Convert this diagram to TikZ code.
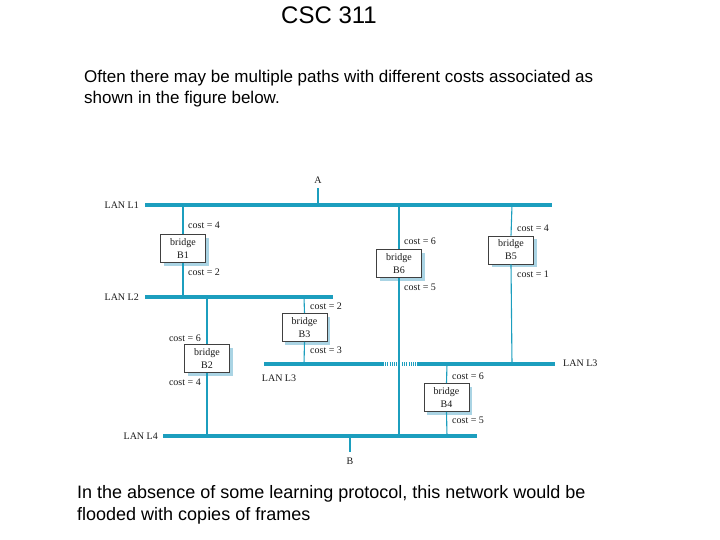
\documentclass[tikz,border=0pt]{standalone}
\usepackage{fontspec}
\setmainfont{Liberation Sans}
\newfontfamily\figfont{Liberation Serif}
\usetikzlibrary{shadows}
\definecolor{lanblue}{RGB}{28,158,190}
\definecolor{shadowblue}{RGB}{170,212,228}
\definecolor{figtext}{RGB}{25,25,25}
\begin{document}
\begin{tikzpicture}[x=1pt,y=-1pt,
  lanbar/.style={draw=lanblue,line width=4.5pt},
  tap/.style={draw=lanblue,line width=1.1pt},
  bridgebox/.style={draw=black!75,fill=white,line width=0.6pt,minimum width=45pt,minimum height=28pt,
    inner sep=1pt,align=center,font=\figfont\fontsize{10}{13}\selectfont,text=figtext,
    drop shadow={shadow xshift=3pt,shadow yshift=-3pt,fill=shadowblue,opacity=1}},
  lbl/.style={font=\figfont\fontsize{10}{11}\selectfont,text=figtext,inner sep=0pt},
  prose/.style={inner sep=0pt,anchor=base west}]
\useasboundingbox (0,0) rectangle (720,540);
% title and text
\node[font=\fontsize{24}{28}\selectfont,inner sep=0pt,anchor=base] (title) at (329,24) {CSC 311};
\node[prose,font=\fontsize{17}{20}\selectfont] (p1) at (84,83) {Often there may be multiple paths with different costs associated as};
\node[prose,font=\fontsize{17}{20}\selectfont] (p2) at (84,104) {shown in the figure below.};
\node[prose,font=\fontsize{18}{21}\selectfont] (p3) at (77,498) {In the absence of some learning protocol, this network would be};
\node[prose,font=\fontsize{18}{21}\selectfont] (p4) at (77,520) {flooded with copies of frames};
% LAN bar ends
\coordinate (L1w) at (145,205); \coordinate (L1e) at (552,205);
\coordinate (L2w) at (145,297); \coordinate (L2e) at (333,297);
\coordinate (L3w) at (264,364); \coordinate (L3e) at (555,364);
\coordinate (L3da) at (383,364); \coordinate (L3db) at (397,364);
\coordinate (L3dc) at (402,364); \coordinate (L3dd) at (418,364);
\coordinate (L4w) at (163,436); \coordinate (L4e) at (477,436);
% taps on bars
\coordinate (a1) at (318,205); \coordinate (atop) at (318,188);
\coordinate (b1t) at (183,205); \coordinate (b1b) at (183,297);
\coordinate (b6t) at (399,205); \coordinate (b6b) at (399,436);
\coordinate (b5t) at (512,205); \coordinate (b5b) at (512,364);
\coordinate (b2t) at (207,297); \coordinate (b2b) at (207,436);
\coordinate (b3t) at (304,297); \coordinate (b3b) at (304,364);
\coordinate (b4t) at (447,364); \coordinate (b4b) at (447,436);
\coordinate (bb) at (350,436); \coordinate (bbot) at (350,452);
% bars
\draw[lanbar] (L1w) -- (L1e);
\draw[lanbar] (L2w) -- (L2e);
\draw[lanbar] (L3w) -- (L3da);
\draw[lanbar,dash pattern=on 1pt off 1.2pt] (L3da) -- (L3db);
\draw[lanbar,dash pattern=on 1pt off 1.2pt] (L3dc) -- (L3dd);
\draw[lanbar] (L3dd) -- (L3e);
\draw[lanbar] (L4w) -- (L4e);
% bridges
\node[bridgebox] (B1) at (183,248.5) {bridge\\B1};
\node[bridgebox] (B6) at (399,263.5) {bridge\\B6};
\node[bridgebox] (B5) at (511,250) {bridge\\B5};
\node[bridgebox] (B2) at (207,358.5) {bridge\\B2};
\node[bridgebox] (B3) at (304.5,327.5) {bridge\\B3};
\node[bridgebox] (B4) at (446.5,397.5) {bridge\\B4};
% taps
\draw[tap] (atop) -- (a1);
\draw[tap] (bb) -- (bbot);
\draw[tap] (b1t) -- (B1.north); \draw[tap] (B1.south) -- (b1b);
\draw[tap] (b6t) -- (B6.north); \draw[tap] (B6.south) -- (b6b);
\draw[tap] (b5t) -- (B5.north); \draw[tap] (B5.south) -- (b5b);
\draw[tap] (b2t) -- (B2.north); \draw[tap] (B2.south) -- (b2b);
\draw[tap] (b3t) -- (B3.north); \draw[tap] (B3.south) -- (b3b);
\draw[tap] (b4t) -- (B4.north); \draw[tap] (B4.south) -- (b4b);
% labels
\node[lbl] (lA) at (318,180) {A};
\node[lbl] (lB) at (350,461) {B};
\node[lbl,anchor=east] (n1) at (139,205) {LAN L1};
\node[lbl,anchor=east] (n2) at (139,297) {LAN L2};
\node[lbl] (n3a) at (279,378) {LAN L3};
\node[lbl,anchor=west] (n3b) at (563,363) {LAN L3};
\node[lbl,anchor=east] (n4) at (158,436) {LAN L4};
% costs
\node[lbl,anchor=west] (c1a) at (188,225) {cost = 4};
\node[lbl,anchor=west] (c1b) at (188,272) {cost = 2};
\node[lbl,anchor=west] (c6a) at (404,241) {cost = 6};
\node[lbl,anchor=west] (c6b) at (404,287) {cost = 5};
\node[lbl,anchor=west] (c5a) at (517,228) {cost = 4};
\node[lbl,anchor=west] (c5b) at (517,274) {cost = 1};
\node[lbl,anchor=east] (c2a) at (201,338) {cost = 6};
\node[lbl,anchor=east] (c2b) at (201,382) {cost = 4};
\node[lbl,anchor=west] (c3a) at (310,306) {cost = 2};
\node[lbl,anchor=west] (c3b) at (310,350) {cost = 3};
\node[lbl,anchor=west] (c4a) at (452,376) {cost = 6};
\node[lbl,anchor=west] (c4b) at (452,420) {cost = 5};
\end{tikzpicture}
\end{document}
